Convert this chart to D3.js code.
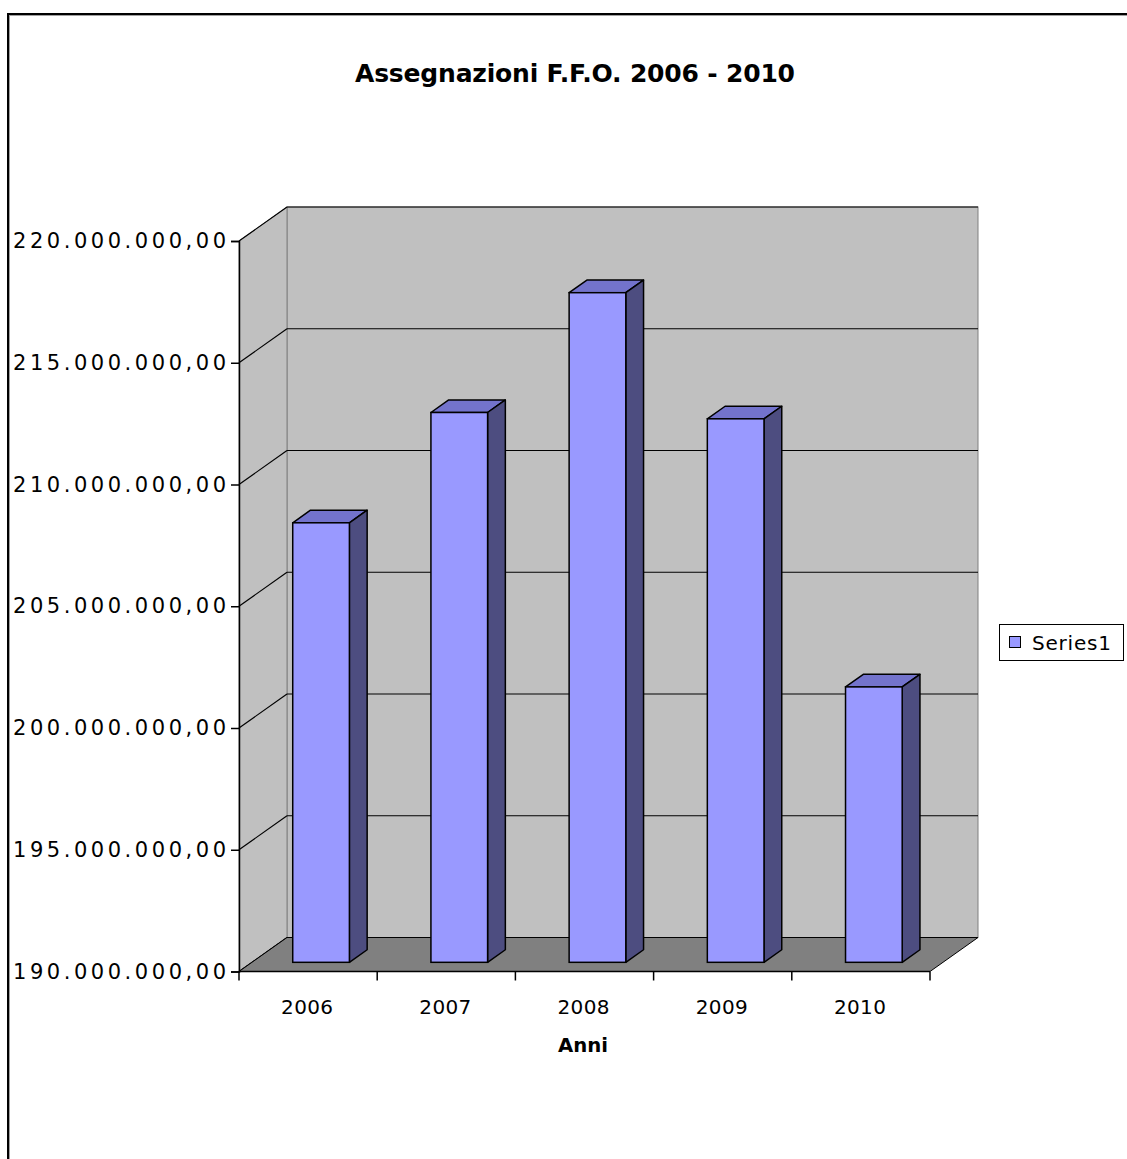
<!DOCTYPE html>
<html>
<head>
<meta charset="utf-8">
<script src="https://cdn.jsdelivr.net/npm/d3@7"></script>
<style>
  body { margin: 0; background: #fff; }
  text { font-family: "DejaVu Sans", Verdana, sans-serif; }
</style>
</head>
<body>
<svg width="1127" height="1159"></svg>
<script>
var years = ["2006", "2007", "2008", "2009", "2010"];
var values = [208050000, 212580000, 217500000, 212320000, 201310000];
var yTicks = [190000000, 195000000, 200000000, 205000000, 210000000, 215000000, 220000000];
var seriesName = "Series1";

var svg = d3.select("svg");

// front plane of the 3d box and its depth offset
var pL = 239, pR = 930, pT = 241, pB = 971.5;
var dx = 48, dy = -34;
// bar front / back at these depth fractions
var f1 = 0.27, f2 = 0.64;

var x = d3.scaleBand().domain(years).range([pL, pR]).paddingInner(0.59).paddingOuter(0.295);
var y = d3.scaleLinear().domain([190000000, 220000000]).range([pB, pT]);

var fmt = function(v) {
  var s = d3.format(",.2f")(v);
  return s.replace(/,/g, "#").replace(".", ",").replace(/#/g, ".");
};

// outer frame
svg.append("rect").attr("x", 8).attr("y", 14).attr("width", 1140).attr("height", 1170)
  .attr("fill", "none").attr("stroke", "#000").attr("stroke-width", 2);
svg.append("rect").attr("x", 9.5).attr("y", 15.5).attr("width", 1140).attr("height", 1170)
  .attr("fill", "none").attr("stroke", "#a0a0a0").attr("stroke-width", 1);

// title
svg.append("text").attr("x", 575).attr("y", 82).attr("text-anchor", "middle")
  .attr("font-family", "'Liberation Sans', Arial, sans-serif")
  .attr("font-size", 25).attr("font-weight", "bold")
  .attr("textLength", 440).attr("lengthAdjust", "spacing")
  .text("Assegnazioni F.F.O. 2006 - 2010");

// back wall
svg.append("rect").attr("x", pL + dx).attr("y", pT + dy)
  .attr("width", pR - pL).attr("height", pB - pT)
  .attr("fill", "#c0c0c0").attr("stroke", "#808080");

// side wall
svg.append("path")
  .attr("d", "M" + pL + "," + pT + "L" + (pL + dx) + "," + (pT + dy) +
    "L" + (pL + dx) + "," + (pB + dy) + "L" + pL + "," + pB + "Z")
  .attr("fill", "#c0c0c0").attr("stroke", "#808080");

// gridlines on back wall and side wall
yTicks.forEach(function(t) {
  var yy = y(t);
  if (t > 190000000) {
    svg.append("line").attr("x1", pL + dx).attr("x2", pR + dx)
      .attr("y1", yy + dy).attr("y2", yy + dy).attr("stroke", "#000").attr("stroke-width", 1.2);
  }
  svg.append("line").attr("x1", pL).attr("x2", pL + dx)
    .attr("y1", yy).attr("y2", yy + dy).attr("stroke", "#000").attr("stroke-width", 1.2);
});

// floor
svg.append("path")
  .attr("d", "M" + pL + "," + pB + "L" + (pL + dx) + "," + (pB + dy) +
    "L" + (pR + dx) + "," + (pB + dy) + "L" + pR + "," + pB + "Z")
  .attr("fill", "#808080").attr("stroke", "#000");

// bars
var bars = svg.selectAll("g.bar").data(years).enter().append("g").attr("class", "bar");
bars.each(function(d, i) {
  var g = d3.select(this);
  var x0 = x(d) + dx * f1, x1 = x(d) + x.bandwidth() + dx * f1;
  var yt = y(values[i]) + dy * f1, yb = y(190000000) + dy * f1;
  var ox = dx * (f2 - f1), oy = dy * (f2 - f1);
  // top
  g.append("path")
    .attr("d", "M" + x0 + "," + yt + "L" + (x0 + ox) + "," + (yt + oy) + "L" + (x1 + ox) + "," + (yt + oy) + "L" + x1 + "," + yt + "Z")
    .attr("fill", "#7373cc").attr("stroke", "#000").attr("stroke-width", 1.5).attr("stroke-linejoin", "round");
  // side
  g.append("path")
    .attr("d", "M" + x1 + "," + yt + "L" + (x1 + ox) + "," + (yt + oy) + "L" + (x1 + ox) + "," + (yb + oy) + "L" + x1 + "," + yb + "Z")
    .attr("fill", "#4d4d80").attr("stroke", "#000").attr("stroke-width", 1.5).attr("stroke-linejoin", "round");
  // front
  g.append("rect").attr("x", x0).attr("y", yt).attr("width", x1 - x0).attr("height", yb - yt)
    .attr("fill", "#9999ff").attr("stroke", "#000").attr("stroke-width", 1.5);
});

// y axis
var yAxis = d3.axisLeft(y).tickValues(yTicks).tickSize(8).tickFormat(fmt);
var ga = svg.append("g").attr("transform", "translate(" + pL + ",0)").call(yAxis);
ga.select(".domain").attr("stroke", "#000").attr("stroke-width", 1.5);
ga.selectAll(".tick line").attr("stroke-width", 1.5);
ga.selectAll("text").attr("font-size", 21).attr("fill", "#000")
  .attr("font-family", "'DejaVu Sans', Verdana, sans-serif").attr("x", -13)
  .attr("textLength", 213).attr("lengthAdjust", "spacing");

// x axis
var gx = svg.append("g").attr("transform", "translate(0," + pB + ")");
gx.append("line").attr("x1", pL).attr("x2", pR).attr("stroke", "#000").attr("stroke-width", 1.5);
var step = x.step();
d3.range(years.length + 1).forEach(function(i) {
  gx.append("line").attr("x1", pL + i * step).attr("x2", pL + i * step)
    .attr("y1", 0).attr("y2", 9).attr("stroke", "#000").attr("stroke-width", 1.5);
});
gx.selectAll("text.cat").data(years).enter().append("text").attr("class", "cat")
  .attr("x", function(d) { return x(d) + x.bandwidth() / 2 - 1; })
  .attr("y", 42).attr("text-anchor", "middle").attr("font-size", 20)
  .attr("textLength", 52).attr("lengthAdjust", "spacing")
  .text(function(d) { return d; });

svg.append("text").attr("x", 583).attr("y", 1052).attr("text-anchor", "middle")
  .attr("font-size", 20).attr("font-weight", "bold")
  .attr("textLength", 50).attr("lengthAdjust", "spacingAndGlyphs").text("Anni");

// legend
var lg = svg.append("g");
lg.append("rect").attr("x", 999.5).attr("y", 624.5).attr("width", 124).attr("height", 36)
  .attr("fill", "#fff").attr("stroke", "#000");
lg.append("rect").attr("x", 1009.5).attr("y", 636.5).attr("width", 11).attr("height", 11)
  .attr("fill", "#9999ff").attr("stroke", "#000");
lg.append("text").attr("x", 1032).attr("y", 650).attr("font-size", 20)
  .attr("textLength", 79).attr("lengthAdjust", "spacing").text(seriesName);
</script>
</body>
</html>
